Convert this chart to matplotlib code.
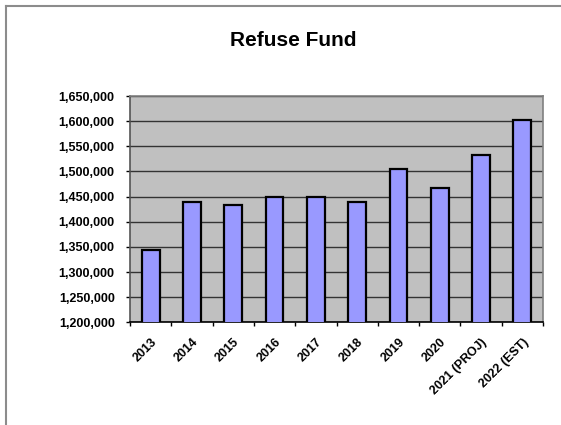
import numpy as np
import matplotlib.pyplot as plt
from matplotlib.lines import Line2D
from matplotlib.transforms import ScaledTranslation
from matplotlib.ticker import FuncFormatter, MultipleLocator

plt.rcParams['font.family'] = ['Liberation Sans', 'DejaVu Sans']

years = ["2013", "2014", "2015", "2016", "2017", "2018", "2019", "2020",
         "2021 (PROJ)", "2022 (EST)"]
revenue = [1343000, 1439000, 1433000, 1449000, 1450000, 1439000,
           1504000, 1467000, 1532000, 1603000]

fig = plt.figure(figsize=(5.61, 4.25), dpi=100)

# outer chart frame (only top and left edges fall inside the image)
fx, fy = 5.5 / 561, 1 - 5.5 / 425
fig.add_artist(Line2D([fx, 1.0], [fy, fy], transform=fig.transFigure,
                      color="#8c8c8c", linewidth=1.5))
fig.add_artist(Line2D([fx, fx], [0.0, fy], transform=fig.transFigure,
                      color="#8c8c8c", linewidth=1.5))

ax = fig.add_axes([130 / 561, 1 - 322.3 / 425, 413 / 561, 226.3 / 425])
ax.set_facecolor("#c0c0c0")

x = np.arange(len(years))
ax.bar(x, revenue, width=0.43, color="#9999ff", edgecolor="black",
       linewidth=1.6, zorder=3)

ax.set_xlim(-0.5, len(years) - 0.5)
ax.set_ylim(1200000, 1650000)
ax.yaxis.set_major_locator(MultipleLocator(50000))
ax.yaxis.set_major_formatter(FuncFormatter(lambda v, p: f"{int(v):,}"))
ax.grid(axis="y", color="#333333", linewidth=1.0, zorder=1)

ax.set_xticks(x)
ax.set_xticklabels(years, rotation=45, ha="right", rotation_mode="anchor",
                   fontsize=9, fontweight="bold")
shift = ScaledTranslation(-3 / 100, 0, fig.dpi_scale_trans)
for lab in ax.get_xticklabels():
    lab.set_transform(lab.get_transform() + shift)
ax.set_xticks(np.arange(-0.5, len(years)), minor=True)
ax.tick_params(axis="x", which="major", length=0, pad=10)
ax.tick_params(axis="x", which="minor", length=3, width=1, color="black")
ax.tick_params(axis="y", length=3, width=1, color="black", labelsize=9, pad=8)
for lab in ax.get_yticklabels():
    lab.set_fontweight("bold")

ax.spines["top"].set_color("#808080")
ax.spines["right"].set_color("#808080")
ax.spines["left"].set_color("#555555")
ax.spines["bottom"].set_color("black")
for s in ax.spines.values():
    s.set_linewidth(1.2)

fig.text(293 / 561, 1 - 41 / 425, "Refuse Fund", ha="center", va="center",
         fontsize=15, fontweight="bold")

fig.savefig("out.png", dpi=100)
